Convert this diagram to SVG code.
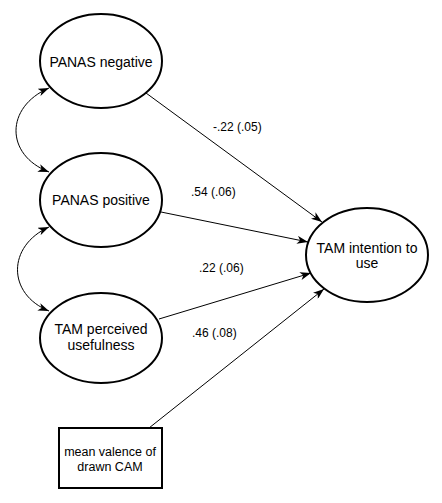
<svg xmlns="http://www.w3.org/2000/svg" width="442" height="503" viewBox="0 0 442 503">
<style>
.node{fill:#fff;stroke:#000;stroke-width:2}
.lbl{font-family:"Liberation Sans",Arial,sans-serif;font-size:14px;fill:#000;text-anchor:middle}
.small{font-family:"Liberation Sans",Arial,sans-serif;font-size:12.5px;fill:#000;text-anchor:middle}
.el{font-family:"Liberation Sans",Arial,sans-serif;font-size:12px;fill:#000}
.edge{fill:none;stroke:#000;stroke-width:1}
</style>
<defs>
<marker id="arr" viewBox="0 0 11 8" refX="11" refY="4" markerWidth="11" markerHeight="8" markerUnits="userSpaceOnUse" orient="auto-start-reverse">
<path d="M0,0 L11,4 L0,8 L3,4 z" fill="#000"/>
</marker>
</defs>
<rect width="442" height="503" fill="#fff"/>
<g id="connectors">
<line class="edge" x1="146" y1="93" x2="322" y2="222" marker-end="url(#arr)"/>
<line class="edge" x1="161" y1="212" x2="308" y2="242" marker-end="url(#arr)"/>
<line class="edge" x1="159" y1="319" x2="311" y2="273" marker-end="url(#arr)"/>
<line class="edge" x1="149" y1="428" x2="324" y2="289" marker-end="url(#arr)"/>
<path class="edge" d="M49,88 C5,107 5,155 49,172" marker-start="url(#arr)" marker-end="url(#arr)"/>
<path class="edge" d="M49,227 C7,246 7,294 49,311" marker-start="url(#arr)" marker-end="url(#arr)"/>
<text class="el" x="213" y="131">-.22 (.05)</text>
<text class="el" x="191" y="196">.54 (.06)</text>
<text class="el" x="199" y="272">.22 (.06)</text>
<text class="el" x="192" y="337">.46 (.08)</text>
</g>
<g id="panas_negative">
<ellipse class="node" cx="101" cy="61" rx="61" ry="47"/>
<text class="lbl" x="101" y="67">PANAS negative</text>
</g>
<g id="panas_positive">
<ellipse class="node" cx="101" cy="200" rx="61" ry="47"/>
<text class="lbl" x="101" y="205">PANAS positive</text>
</g>
<g id="tam_perceived">
<ellipse class="node" cx="101" cy="338" rx="61" ry="45"/>
<text class="lbl" x="101" y="334">TAM perceived</text>
<text class="lbl" x="101" y="350">usefulness</text>
</g>
<g id="tam_intention">
<ellipse class="node" cx="367" cy="255" rx="61" ry="47"/>
<text class="lbl" x="367" y="253">TAM intention to</text>
<text class="lbl" x="367" y="268">use</text>
</g>
<g id="mean_valence">
<rect class="node" x="59" y="428" width="103" height="60"/>
<text class="small" x="110" y="456">mean valence of</text>
<text class="small" x="110" y="471">drawn CAM</text>
</g>
</svg>
